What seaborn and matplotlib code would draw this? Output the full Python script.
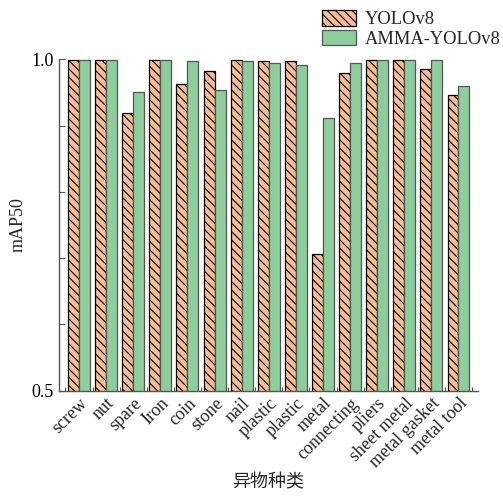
import matplotlib
matplotlib.use("Agg")
import matplotlib.pyplot as plt
import seaborn as sns
import pandas as pd
from matplotlib.ticker import FixedLocator

# 数据
categories = ["screw", "nut", "spare", "Iron", "coin", "stone", "nail", "plastic",
              "plastic ", "metal", "connecting", "pliers", "sheet metal",
              "metal gasket", "metal tool"]
tick_labels = ["screw", "nut", "spare", "Iron", "coin", "stone", "nail", "plastic",
               "plastic", "metal", "connecting", "pliers", "sheet metal",
               "metal gasket", "metal tool"]
yolov8 = [0.999, 0.999, 0.919, 0.999, 0.963, 0.983, 0.999, 0.998,
          0.998, 0.706, 0.980, 0.999, 0.999, 0.985, 0.946]
amma = [0.999, 0.999, 0.950, 0.999, 0.997, 0.953, 0.998, 0.994,
        0.992, 0.911, 0.994, 0.999, 0.999, 0.999, 0.959]
models = ["YOLOv8", "AMMA-YOLOv8"]

df = pd.DataFrame({
    "cat": categories * 2,
    "model": [models[0]] * len(categories) + [models[1]] * len(categories),
    "mAP50": yolov8 + amma,
})

sns.set_style("ticks")
plt.rcParams["font.family"] = ["Liberation Serif", "Noto Sans CJK SC"]
plt.rcParams["hatch.linewidth"] = 0.8

fig = plt.figure(figsize=(5.03, 4.96), dpi=100)
ax = fig.add_axes([58.7 / 503, 1 - 390.7 / 496, (478 - 58.7) / 503, (390.7 - 59.3) / 496])

sns.barplot(data=df, x="cat", y="mAP50", hue="model", order=categories,
            palette=["#F8BD90", "#8DCE9D"], saturation=1, width=0.81, ax=ax)

HATCH = "\\\\\\\\"
# style des barres
for p in ax.containers[0]:
    p.set_hatch(HATCH)
    p.set_edgecolor("black")
    p.set_linewidth(0.9)
for p in ax.containers[1]:
    p.set_edgecolor("#555555")
    p.set_linewidth(0.9)

ax.set_ylim(0.5, 1.0)
ax.set_xlim(-0.75, 14.72)
ax.set_yticks([0.5, 1.0])
ax.set_yticklabels(["0.5", "1.0"], fontsize=13)
ax.yaxis.set_minor_locator(FixedLocator([0.6, 0.7, 0.8, 0.9]))
ax.xaxis.set_minor_locator(FixedLocator([i - 0.5 for i in range(16)]))
ax.tick_params(axis="y", which="both", direction="in", length=4, width=0.8, colors="#555555",
               labelcolor="black")
ax.tick_params(axis="x", which="minor", direction="in", length=3, width=0.8, colors="#555555")
ax.tick_params(axis="x", which="major", length=0, pad=3)
ax.set_xticks(range(len(categories)))
ax.set_xticklabels(tick_labels, rotation=45, ha="right", rotation_mode="anchor", fontsize=13)

sns.despine(ax=ax)
for s in ["left", "bottom"]:
    ax.spines[s].set_color("#555555")
    ax.spines[s].set_linewidth(1.0)

ax.set_ylabel("mAP50", fontsize=13)
ax.yaxis.set_label_coords(-0.076, 0.5)
ax.set_xlabel("异物种类", fontsize=13, family=["Noto Sans CJK SC"])
ax.xaxis.set_label_coords(0.5, -(473 - 390.7) / 331.4)

leg = ax.legend(loc="upper left", bbox_to_anchor=(321.5 / 503, 1 - 10.5 / 496),
                bbox_transform=fig.transFigure, frameon=False, fontsize=13.3,
                handlelength=1.85, handleheight=0.88, handletextpad=0.5,
                labelspacing=0.1, borderpad=0, borderaxespad=0)
hs = leg.legend_handles
hs[0].set_hatch(HATCH)
hs[0].set_edgecolor("black")
hs[1].set_edgecolor("#555555")
for h in hs:
    h.set_linewidth(0.9)

fig.savefig("out.png", dpi=100)
